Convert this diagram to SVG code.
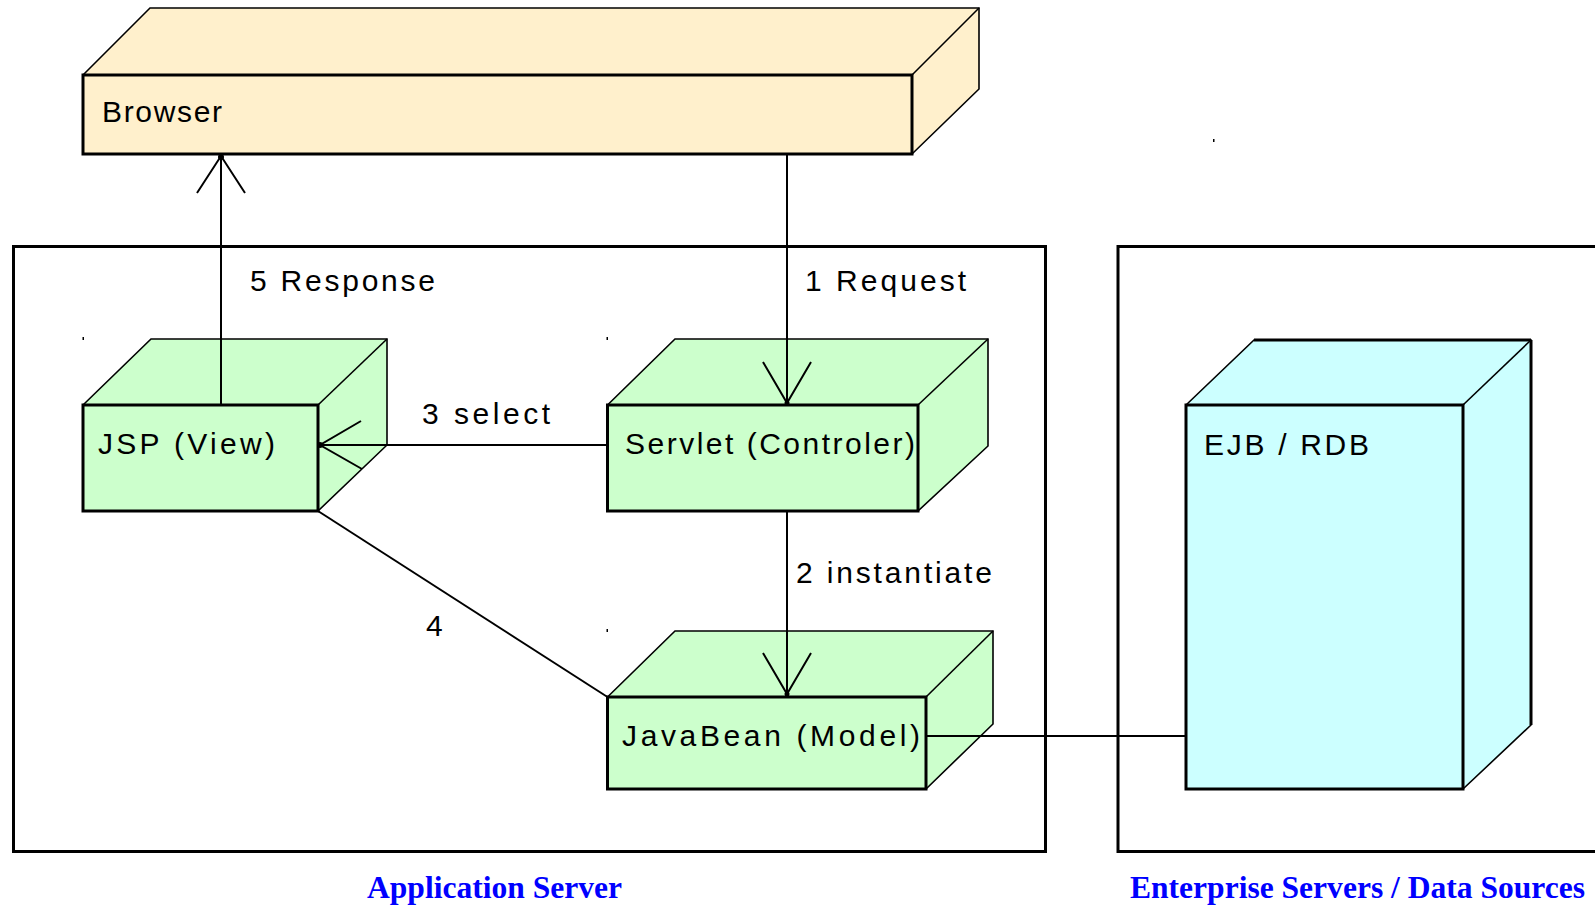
<svg xmlns="http://www.w3.org/2000/svg" width="1595" height="905" viewBox="0 0 1595 905">
<style>
.face{stroke:#000;stroke-width:3;stroke-linejoin:miter}
.edge{stroke:#000;stroke-width:1.6;fill:none}
.cream{fill:#FFF0CC}
.green{fill:#CCFFCC}
.cyan{fill:#CCFFFF}
.lbl{font-family:"Liberation Sans",Arial,sans-serif;font-size:30px;fill:#000}
.cap{font-family:"Liberation Serif","Times New Roman",serif;font-size:31px;font-weight:bold;fill:#0000FF}
.con{stroke:#000;stroke-width:2;fill:none}
.box{fill:none;stroke:#000;stroke-width:3}
</style>
<rect width="1595" height="905" fill="#fff"/>
<g id="app-server">
<rect class="box" x="13.5" y="246.5" width="1032" height="605"/>
<text class="cap" x="367" y="898" textLength="255" lengthAdjust="spacingAndGlyphs">Application Server</text>
</g>
<g id="enterprise">
<rect class="box" x="1118" y="246.5" width="500" height="605"/>
<text class="cap" x="1130" y="898" textLength="455" lengthAdjust="spacingAndGlyphs">Enterprise Servers / Data Sources</text>
</g>
<g id="browser">
<polygon class="cream" points="83,75 150,8 979,8 979,89 912,154 83,154"/>
<polyline class="edge" points="83,75 150,8 979,8 979,89 912,154"/>
<line class="edge" x1="912" y1="75" x2="979" y2="8"/>
<rect class="cream face" x="83" y="75" width="829" height="79"/>
<text class="lbl" x="102" y="122" textLength="120" lengthAdjust="spacing">Browser</text>
</g>
<g id="jsp">
<polygon class="green" points="83,405 151,339 387,339 387,445 318,511 83,511"/>
<polyline class="edge" points="83,405 151,339 387,339 387,445 318,511"/>
<line class="edge" x1="318" y1="405" x2="387" y2="339"/>
<rect class="green face" x="83" y="405" width="235" height="106"/>
<text class="lbl" x="98" y="454" textLength="177" lengthAdjust="spacing">JSP (View)</text>
</g>
<g id="servlet">
<polygon class="green" points="607.5,405 675,339 988,339 988,446 918,511 607.5,511"/>
<polyline class="edge" points="607.5,405 675,339 988,339 988,446 918,511"/>
<line class="edge" x1="918" y1="405" x2="988" y2="339"/>
<rect class="green face" x="607.5" y="405" width="310.5" height="106"/>
<text class="lbl" x="625" y="454" textLength="290" lengthAdjust="spacing">Servlet (Controler)</text>
</g>
<g id="javabean">
<polygon class="green" points="607.5,697 675,631 993,631 993,724 926,789 607.5,789"/>
<polyline class="edge" points="607.5,697 675,631 993,631 993,724 926,789"/>
<line class="edge" x1="926" y1="697" x2="993" y2="631"/>
<rect class="green face" x="607.5" y="697" width="318.5" height="92"/>
<text class="lbl" x="622" y="746" textLength="298" lengthAdjust="spacing">JavaBean (Model)</text>
</g>
<g id="ejb">
<polygon class="cyan" points="1186,405 1254,340 1531,340 1531,725 1463,789 1186,789"/>
<polyline class="edge" points="1186,405 1254,340 1531,340 1531,725 1463,789"/>
<line class="edge" x1="1463" y1="405" x2="1531" y2="340"/>
<line x1="1531" y1="340" x2="1531" y2="725" stroke="#000" stroke-width="3"/>
<line x1="1254" y1="340" x2="1531" y2="340" stroke="#000" stroke-width="3"/>
<rect class="cyan face" x="1186" y="405" width="277" height="384"/>
<text class="lbl" x="1204" y="455" textLength="165" lengthAdjust="spacing">EJB / RDB</text>
</g>
<g id="connectors">
<line class="con" x1="787" y1="154" x2="787" y2="405"/>
<polyline class="con" points="763,362 787,403 811,362"/>
<circle cx="787" cy="403" r="2.5"/>
<text class="lbl" x="805" y="291" textLength="161" lengthAdjust="spacing">1 Request</text>
<line class="con" x1="787" y1="511" x2="787" y2="697"/>
<polyline class="con" points="763,653 787,694 811,653"/>
<circle cx="787" cy="694" r="2.5"/>
<text class="lbl" x="796" y="583" textLength="196" lengthAdjust="spacing">2 instantiate</text>
<line class="con" x1="607.5" y1="445" x2="318" y2="445"/>
<polyline class="con" points="361,421 320,445 362,469"/>
<circle cx="320" cy="445" r="3"/>
<text class="lbl" x="422" y="424" textLength="128" lengthAdjust="spacing">3 select</text>
<line class="con" x1="318" y1="511" x2="607.5" y2="697" stroke-width="1.6"/>
<text class="lbl" x="426" y="636">4</text>
<line class="con" x1="221" y1="405" x2="221" y2="156"/>
<polyline class="con" points="197,193 221,156 245,193"/>
<circle cx="221" cy="157" r="3"/>
<text class="lbl" x="250" y="291" textLength="185" lengthAdjust="spacing">5 Response</text>
<line class="con" x1="926" y1="736" x2="1186" y2="736"/>
</g>
<g id="marks" fill="#000">
<rect x="82.5" y="337" width="1.5" height="3"/>
<rect x="606.5" y="337" width="1.5" height="3"/>
<rect x="606.5" y="629" width="1.5" height="3"/>
<rect x="1213" y="139" width="1.5" height="3"/>
</g>
</svg>
